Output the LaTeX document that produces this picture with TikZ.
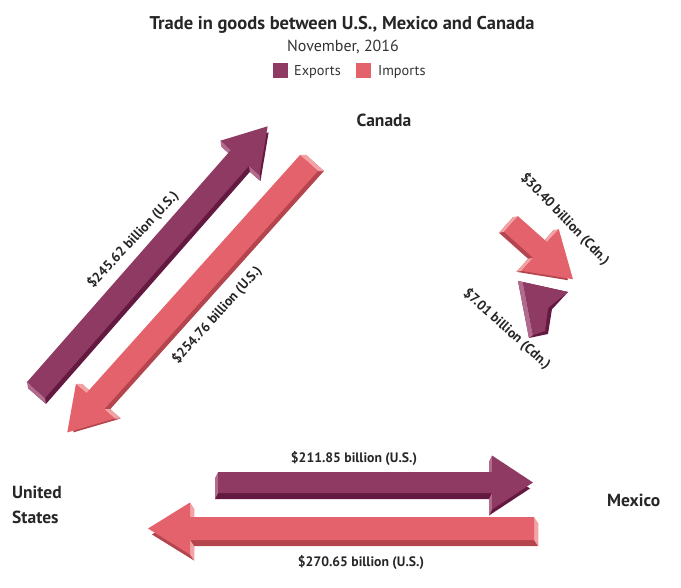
\documentclass[tikz,border=0pt]{standalone}
\usepackage{fontspec}
\setmainfont{PT Sans}
\usetikzlibrary{calc}

\definecolor{expface}{HTML}{8E3A62}
\definecolor{expdark}{HTML}{641A40}
\definecolor{explight}{HTML}{B36B8D}
\definecolor{impface}{HTML}{E4626B}
\definecolor{impdark}{HTML}{B4444D}
\definecolor{implight}{HTML}{F3A3A5}

% #1 tail, #2 angle, #3 shaft length, #4 shaft half width,
% #5 head length, #6 head half width, #7 colour, #8 depth offset
\newcommand{\tradearrow}[8]{%
  \begin{scope}[shift={(#1)}, shift={(#8)}, rotate=#2]
    \fill[#7dark] (0,#4) -- (#3,#4) -- (#3,#6) -- ({#3+#5},0) -- (#3,-#6) -- (#3,-#4) -- (0,-#4) -- cycle;
  \end{scope}
  \begin{scope}[shift={(#1)}, rotate=#2]
    \coordinate (t1) at (0,#4);
    \coordinate (t2) at (0,-#4);
    \coordinate (s1) at (#3,#4);
    \coordinate (s2) at (#3,-#4);
    \coordinate (h1) at (#3,#6);
    \coordinate (h2) at (#3,-#6);
    \coordinate (tip) at ({#3+#5},0);
  \end{scope}
  \fill[#7light] (t1) -- (t2) -- ($(t2)+(#8)$) -- ($(t1)+(#8)$) -- cycle;
  \fill[#7light] (s1) -- (h1) -- ($(h1)+(#8)$) -- ($(s1)+(#8)$) -- cycle;
  \fill[#7light] (s2) -- (h2) -- ($(h2)+(#8)$) -- ($(s2)+(#8)$) -- cycle;
  \fill[#7face] (t1) -- (s1) -- (h1) -- (tip) -- (h2) -- (s2) -- (t2) -- cycle;
}

\tikzset{
  titletext/.style={font=\fontsize{18.5}{20}\selectfont\bfseries, text=black!85, inner sep=0pt},
  subtext/.style={font=\fontsize{16}{18}\selectfont, text=black!80, inner sep=0pt},
  legendtext/.style={font=\fontsize{14.3}{16}\selectfont, text=black!80, inner sep=0pt, anchor=base west},
  country/.style={font=\fontsize{17.5}{25}\selectfont\bfseries, text=black!85, inner sep=0pt},
  amount/.style={font=\fontsize{13.7}{15}\selectfont\bfseries, text=black!85, inner sep=0pt}
}

\begin{document}
\begin{tikzpicture}[x=1pt, y=-1pt]
  \useasboundingbox (0,0) rectangle (681,588);

  % heading and legend
  \node[titletext, anchor=base] (title) at (342,30) {Trade in goods between U.S., Mexico and Canada};
  \node[subtext, anchor=base] (date) at (343,52) {November, 2016};
  \fill[expface] (273,63) rectangle (288,78);
  \node[legendtext] (exports) at (294,76) {Exports};
  \fill[impface] (356,63) rectangle (371,78);
  \node[legendtext] (imports) at (378,76) {Imports};

  % countries
  \node[country, anchor=base west, align=left] (us) at (12,523) {United\\States};
  \node[country, anchor=base] (canada) at (384,127) {Canada};
  \node[country, anchor=base west] (mexico) at (607,506) {Mexico};

  % U.S. and Canada
  \tradearrow{36,390}{48.7}{309}{12}{42}{26}{exp}{1,6}
  \tradearrow{309,163}{228.1}{320}{12}{42}{26}{imp}{6,0}
  \node[amount, rotate=47] (uscaexp) at (133,240) {\$245.62 billion (U.S.)};
  \node[amount, rotate=48] (uscaimp) at (217,315) {\$254.76 billion (U.S.)};

  % U.S. and Mexico
  \tradearrow{218,482.5}{0}{274}{10.5}{41}{27}{exp}{-3,6}
  \tradearrow{534,528.5}{180}{344}{11.5}{42}{26}{imp}{4,6}
  \node[amount, anchor=base] (usmxexp) at (354,463) {\$211.85 billion (U.S.)};
  \node[amount, anchor=base] (usmximp) at (361,566) {\$270.65 billion (U.S.)};

  % Canada and Mexico
  \tradearrow{511,224}{-41.7}{39}{10.5}{44}{28}{imp}{-5,1}
  \fill[expdark] (518,281) -- (568,292) -- (556,305) -- (552,309) -- (548,334) -- (529,338) -- cycle;
  \fill[explight] (518,281) -- (523,282) -- (533,335) -- (529,338) -- cycle;
  \fill[expface] (523,282) -- (568,292) -- (554,303) -- (548,308) -- (545,331) -- (533,335) -- cycle;
  \node[amount, rotate=-46] (camximp) at (565,219) {\$30.40 billion (Cdn.)};
  \node[amount, rotate=-42] (camxexp) at (507,329) {\$7.01 billion (Cdn.)};
\end{tikzpicture}
\end{document}
